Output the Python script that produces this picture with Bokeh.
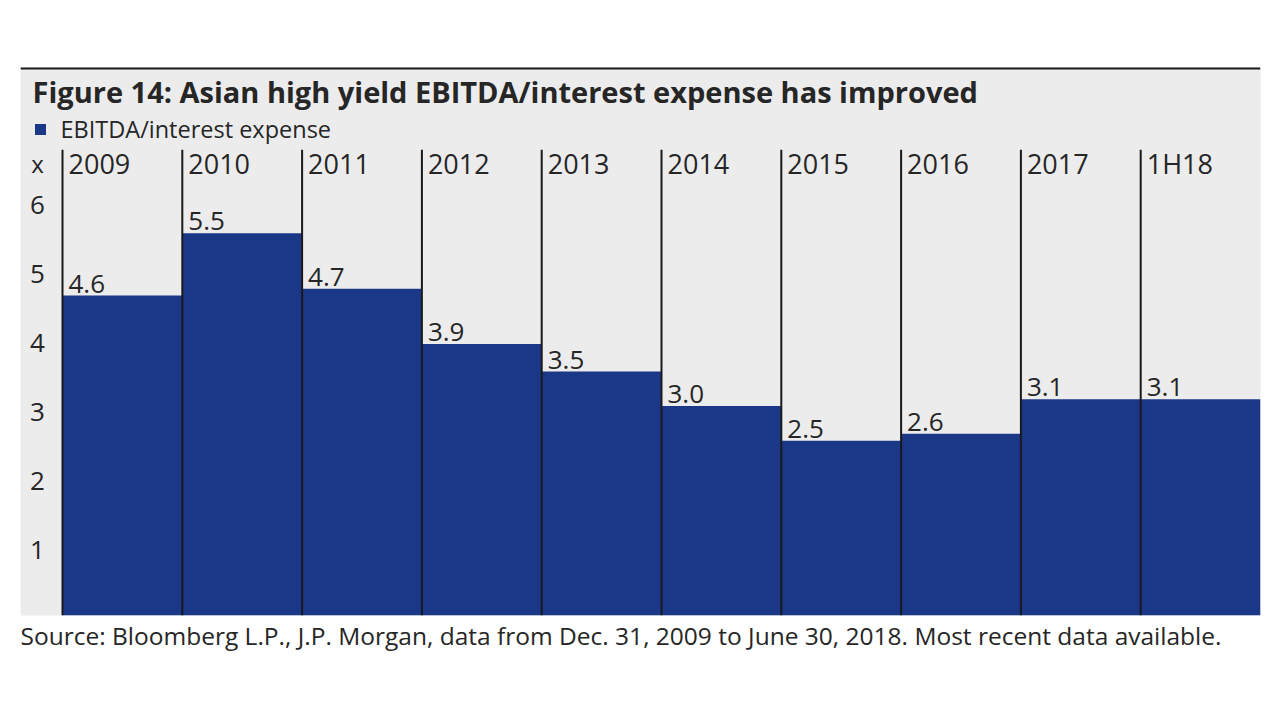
import numpy as np
from bokeh.plotting import figure
from bokeh.models import Title
from bokeh.core.properties import value
from bokeh.embed import file_html
from bokeh.resources import INLINE

# ---- data ----
categories = ["2009", "2010", "2011", "2012", "2013", "2014", "2015", "2016", "2017", "1H18"]
ebitda_interest = [4.6, 5.5, 4.7, 3.9, 3.5, 3.0, 2.5, 2.6, 3.1, 3.1]
value_labels = ["4.6", "5.5", "4.7", "3.9", "3.5", "3.0", "2.5", "2.6", "3.1", "3.1"]
y_ticks = [1, 2, 3, 4, 5, 6]
y_tick_labels = ["1", "2", "3", "4", "5", "6"]

title_text = "Figure 14: Asian high yield EBITDA/interest expense has improved"
legend_text = "EBITDA/interest expense"
source_text = ("Source: Bloomberg L.P., J.P. Morgan, data from Dec. 31, 2009 to June 30, 2018. "
               "Most recent data available.")

NAVY = "#1b3788"
GREY = "#ececec"
TXT = "#262626"
FONT = "Open Sans"

n = len(categories)
idx = np.arange(n)
X0 = -0.3506
Y0 = -0.03
Y1 = 7.90
PX_X = 119.8   # pixels per x unit
PX_Y = 69.0    # pixels per y unit
LINE_TOP = 6.71
LABEL_Y = 6.51

p = figure(width=1272, height=704, x_range=(X0, n), y_range=(Y0, Y1),
           output_backend="svg", toolbar_location=None,
           x_axis_location=None, y_axis_location=None,
           min_border_left=20, min_border_right=12, min_border_top=67, min_border_bottom=89,
           background_fill_color=GREY, border_fill_color="white", outline_line_color=None)
p.xgrid.visible = False
p.ygrid.visible = False

# bars
p.vbar(x=idx + 0.5, top=ebitda_interest, bottom=Y0, width=1, fill_color=NAVY, line_color=None)

# column separators
p.segment(x0=idx, y0=[Y0] * n, x1=idx, y1=[LINE_TOP] * n, line_color="#1a1a1a", line_width=2)

# top rule
p.segment(x0=[X0], y0=[Y1], x1=[n], y1=[Y1], line_color="#1a1a1a", line_width=4)

# category labels
p.text(x=idx, y=[LABEL_Y] * n, text=categories, x_offset=6, text_baseline="middle",
       text_align="left", text_font=value(FONT), text_font_size="27px", text_color=TXT)

# value labels
p.text(x=idx, y=ebitda_interest, text=value_labels, x_offset=6, y_offset=-3,
       text_baseline="bottom", text_align="left", text_font=value(FONT),
       text_font_size="26px", text_color=TXT)

# y tick labels
p.text(x=[X0] * len(y_ticks), y=y_ticks, text=y_tick_labels, x_offset=17, y_offset=6,
       text_baseline="middle", text_align="center", text_font=value(FONT),
       text_font_size="26px", text_color=TXT)
p.text(x=[X0], y=[LABEL_Y], text=["x"], x_offset=17, text_baseline="middle",
       text_align="center", text_font=value(FONT), text_font_size="24px", text_color=TXT)

# title
p.text(x=[X0], y=[Y1], text=[title_text], x_offset=12, y_offset=24, text_baseline="middle",
       text_align="left", text_font=value(FONT), text_font_style="bold",
       text_font_size="29px", text_color=TXT)

# legend
p.scatter(x=[X0 + 20 / PX_X], y=[Y1 - 62 / PX_Y], marker="square", size=11,
          fill_color=NAVY, line_color=None)
p.text(x=[X0], y=[Y1], text=[legend_text], x_offset=40, y_offset=61, text_baseline="middle",
       text_align="left", text_font=value(FONT), text_font_size="23.5px", text_color=TXT)

# source
p.add_layout(Title(text=source_text, align="left", text_font=FONT, text_font_size="24.5px",
                   text_font_style="normal", text_color=TXT, standoff=2), "below")

open("out.html", "w").write(file_html(p, INLINE))
